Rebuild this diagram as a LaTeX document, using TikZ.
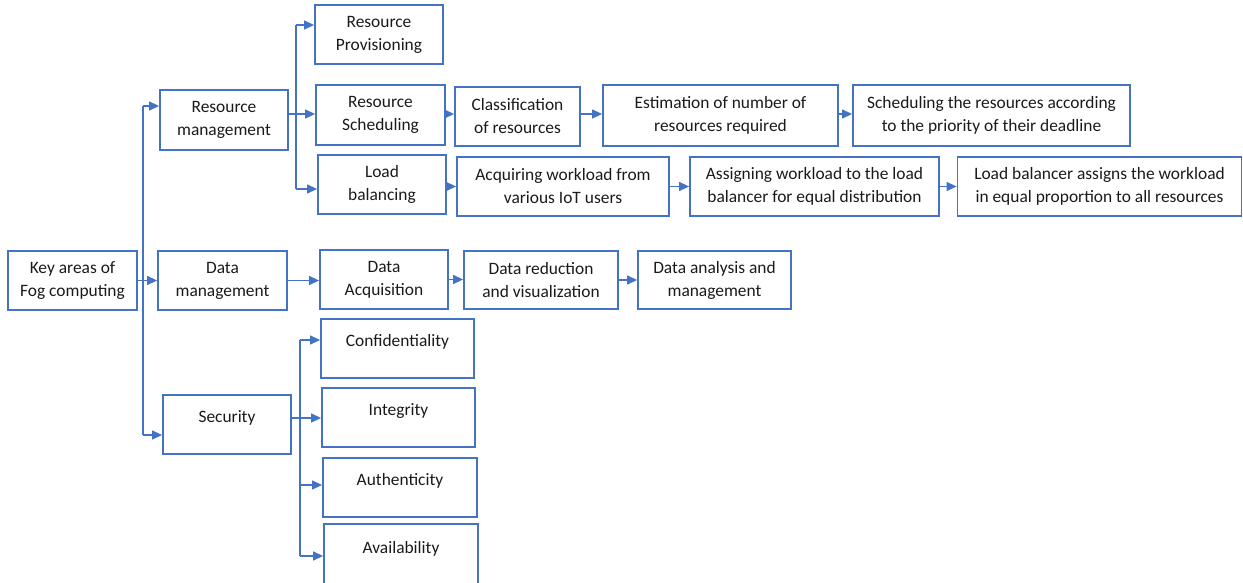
\documentclass[tikz,border=0pt]{standalone}
\usepackage{fontspec}
\setmainfont{Carlito}
\usetikzlibrary{arrows.meta}
\definecolor{edge}{HTML}{4472C4}
\definecolor{ink}{HTML}{1A1A1A}
\begin{document}
\begin{tikzpicture}[x=1pt,y=-1pt,
  box/.style={draw=edge, line width=1.8pt, text=ink, align=center, inner sep=0pt,
    font=\fontsize{17.4}{23}\selectfont},
  raised/.style={text depth=16pt},
  link/.style={draw=edge, line width=1.3pt, -{Triangle[length=10pt,width=9pt]}},
  wire/.style={draw=edge, line width=1.3pt}]
\useasboundingbox (0,0) rectangle (1243,583);

% root and the three key areas
\node[box, minimum width=129, minimum height=59] (key) at (72.5,280.5) {Key areas of\\Fog computing};
\node[box, minimum width=128, minimum height=60] (rm) at (224,120) {Resource\\management};
\node[box, minimum width=129, minimum height=59] (dm) at (222.5,280.5) {Data\\management};
\node[box, raised, minimum width=128, minimum height=59] (sec) at (227,424.5) {Security};

% resource management branch
\node[box, minimum width=128, minimum height=59] (rp) at (379,34.5) {Resource\\Provisioning};
\node[box, minimum width=129, minimum height=60] (rs) at (380.5,115) {Resource\\Scheduling};
\node[box, minimum width=128, minimum height=59] (lb) at (382,184.5) {Load\\balancing};
\node[box, minimum width=125, minimum height=59] (cl) at (517.5,116.5) {Classification\\of resources};
\node[box, minimum width=235, minimum height=61] (est) at (720.5,115.5) {Estimation of number of\\resources required};
\node[box, minimum width=277, minimum height=61] (sch) at (991.5,115.5) {Scheduling the resources according\\to the priority of their deadline};
\node[box, minimum width=212, minimum height=59] (acq) at (563,186.5) {Acquiring workload from\\various IoT users};
\node[box, minimum width=249, minimum height=59] (asg) at (814.5,186.5) {Assigning workload to the load\\balancer for equal distribution};
\node[box, minimum width=284, minimum height=59] (lbs) at (1099.5,186.5) {Load balancer assigns the workload\\in equal proportion to all resources};

% data management branch
\node[box, minimum width=128, minimum height=59] (da) at (384,279.5) {Data\\Acquisition};
\node[box, minimum width=154, minimum height=58] (dr) at (541,280) {Data reduction\\and visualization};
\node[box, minimum width=153, minimum height=58] (dan) at (714.5,280) {Data analysis and\\management};

% security branch
\node[box, raised, minimum width=153, minimum height=59] (conf) at (397.5,348.5) {Confidentiality};
\node[box, raised, minimum width=153, minimum height=59] (integ) at (398.5,417.5) {Integrity};
\node[box, raised, minimum width=154, minimum height=59] (auth) at (400,487.5) {Authenticity};
\node[box, raised, minimum width=154, minimum height=62] (avail) at (401,555) {Availability};

% trunk from the root
\coordinate (t1) at (143,106);
\coordinate (t2) at (143,435);
\draw[link] (key.east) -- (key.east -| dm.west);
\draw[wire] (t1) -- (t2);
\draw[link] (t1) -- (t1 -| rm.west);
\draw[link] (t2) -- (t2 -| sec.west);

% resource management fan-out
\coordinate (r0) at (296,114);
\coordinate (r1) at (296,25);
\coordinate (r2) at (296,189);
\draw[wire] (r1) -- (r2);
\draw[link] (r0 -| rm.east) -- (r0 -| rs.west);
\draw[link] (r1) -- (r1 -| rp.west);
\draw[link] (r2) -- (r2 -| lb.west);

% scheduling chain
\draw[link] (rs.east |- r0) -- (cl.west |- r0);
\draw[link] (cl.east |- r0) -- (est.west |- r0);
\draw[link] (est.east |- r0) -- (sch.west |- r0);

% load balancing chain
\draw[link] (lb.east |- acq.west) -- (acq.west);
\draw[link] (acq.east) -- (asg.west);
\draw[link] (asg.east) -- (lbs.west);

% data chain
\draw[link] (dm.east) -- (dm.east -| da.west);
\draw[link] (da.east) -- (da.east -| dr.west);
\draw[link] (dr.east) -- (dan.west);

% security fan-out
\coordinate (s0) at (300,418);
\coordinate (s1) at (300,340);
\coordinate (s3) at (300,485);
\coordinate (s4) at (300,556);
\draw[wire] (s1) -- (s4);
\draw[link] (s0 -| sec.east) -- (s0 -| integ.west);
\draw[link] (s1) -- (s1 -| conf.west);
\draw[link] (s3) -- (s3 -| auth.west);
\draw[link] (s4) -- (s4 -| avail.west);
\end{tikzpicture}
\end{document}
